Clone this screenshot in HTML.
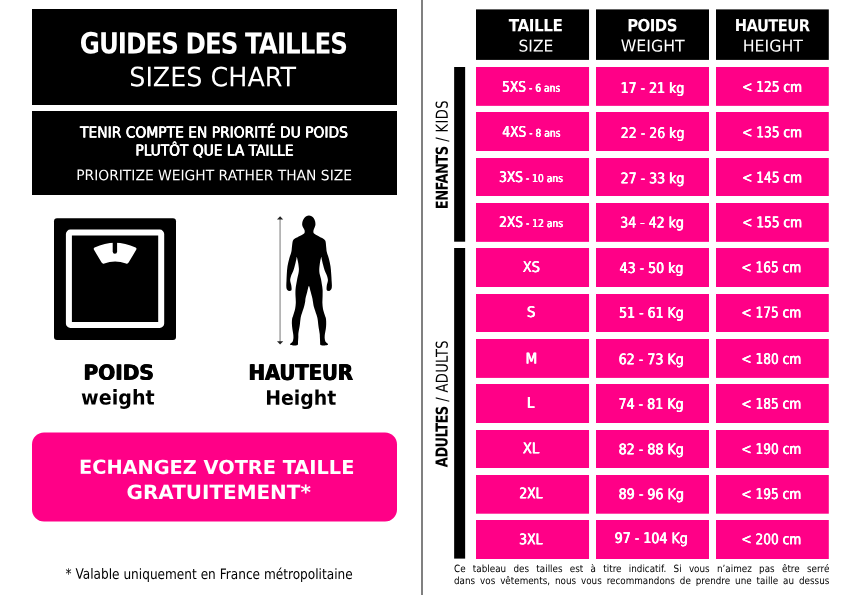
<!DOCTYPE html>
<html lang="fr">
<head>
<meta charset="utf-8">
<title>Guides des tailles - Sizes chart</title>
<style>
html,body{margin:0;padding:0;background:#fff}
body{width:842px;height:595px;position:relative;overflow:hidden;font-family:'DejaVu Sans','Liberation Sans',sans-serif;text-rendering:geometricPrecision}
.pk{fill:#ff0087}
.t{position:absolute;left:0;top:0;white-space:nowrap;line-height:1;transform-origin:0 0}
.t small{font-size:74%;letter-spacing:.1px}
svg{position:absolute;left:0;top:0}
.note{position:absolute;margin:0;color:#000;text-align:justify;text-align-last:justify;transform-origin:0 0;white-space:nowrap}
</style>
</head>
<body>
<svg width="842" height="595" viewBox="0 0 842 595">
<rect x="32" y="9" width="365" height="96"/>
<rect x="32" y="111" width="365" height="84"/>
<rect class="pk" x="32" y="432.5" width="365" height="88.9" rx="12"/>
<rect x="421" y="0" width="2" height="595" fill="#808080"/>
<rect x="476" y="9.4" width="113.05" height="50.5"/>
<rect x="596" y="9.4" width="113" height="50.5"/>
<rect x="716" y="9.4" width="112.8" height="50.5"/>
<rect x="454.15" y="67" width="11" height="174.7"/>
<rect x="454.15" y="248" width="11" height="310.6"/>
<rect class="pk" x="476" y="67" width="113.05" height="38.85"/>
<rect class="pk" x="596" y="67" width="113.00" height="38.85"/>
<rect class="pk" x="716" y="67" width="112.80" height="38.85"/>
<rect class="pk" x="476" y="112" width="113.05" height="39.00"/>
<rect class="pk" x="596" y="112" width="113.00" height="39.00"/>
<rect class="pk" x="716" y="112" width="112.80" height="39.00"/>
<rect class="pk" x="476" y="158" width="113.05" height="38.00"/>
<rect class="pk" x="596" y="158" width="113.00" height="38.00"/>
<rect class="pk" x="716" y="158" width="112.80" height="38.00"/>
<rect class="pk" x="476" y="203" width="113.05" height="38.85"/>
<rect class="pk" x="596" y="203" width="113.00" height="38.85"/>
<rect class="pk" x="716" y="203" width="112.80" height="38.85"/>
<rect class="pk" x="476" y="248" width="113.05" height="39.00"/>
<rect class="pk" x="596" y="248" width="113.00" height="39.00"/>
<rect class="pk" x="716" y="248" width="112.80" height="39.00"/>
<rect class="pk" x="476" y="294" width="113.05" height="38.00"/>
<rect class="pk" x="596" y="294" width="113.00" height="38.00"/>
<rect class="pk" x="716" y="294" width="112.80" height="38.00"/>
<rect class="pk" x="476" y="339" width="113.05" height="38.90"/>
<rect class="pk" x="596" y="339" width="113.00" height="38.90"/>
<rect class="pk" x="716" y="339" width="112.80" height="38.90"/>
<rect class="pk" x="476" y="384" width="113.05" height="39.00"/>
<rect class="pk" x="596" y="384" width="113.00" height="39.00"/>
<rect class="pk" x="716" y="384" width="112.80" height="39.00"/>
<rect class="pk" x="476" y="430" width="113.05" height="38.00"/>
<rect class="pk" x="596" y="430" width="113.00" height="38.00"/>
<rect class="pk" x="716" y="430" width="112.80" height="38.00"/>
<rect class="pk" x="476" y="475" width="113.05" height="38.70"/>
<rect class="pk" x="596" y="475" width="113.00" height="38.70"/>
<rect class="pk" x="716" y="475" width="112.80" height="38.70"/>
<rect class="pk" x="476" y="520" width="113.05" height="39.00"/>
<rect class="pk" x="596" y="520" width="113.00" height="39.00"/>
<rect class="pk" x="716" y="520" width="112.80" height="39.00"/>
<rect x="54" y="218.3" width="122" height="121.8" rx="3" fill="#000"/>
<rect x="68.9" y="232.6" width="92.3" height="92.3" rx="1.5" fill="none" stroke="#fff" stroke-width="6"/>
<path d="M94.6 247.6 Q93.2 248.3 94 249.8 L101.6 262.6 Q102.6 264.2 104.3 263.5 Q115 259.5 126 263.5 Q127.8 264.2 128.6 262.6 L136.2 249.8 Q137 248.3 135.6 247.6 Q115 237.8 94.6 247.6 Z" fill="#fff"/>
<path d="M112.7 242 L112.7 251.6 A2.2 2.2 0 0 0 117.1 251.6 L117.1 242 Z" fill="#000"/>
<rect x="279.2" y="218" width="1.8" height="125" fill="#b4b4b4"/>
<path d="M277 219.6 L280.1 216.3 L283.2 219.6 Z" fill="#222"/>
<path d="M277 341.3 L280.1 344.6 L283.2 341.3 Z" fill="#222"/>
<path d="M308.9 215.5C309.8 215.5 310.8 215.9 311.6 216.3C312.4 216.7 313.0 217.1 313.6 217.9C314.2 218.7 314.8 220.0 315.1 221.2C315.4 222.4 315.5 223.9 315.4 225.0C315.3 226.1 314.9 226.7 314.6 227.5C314.3 228.3 313.8 229.2 313.6 230.1C313.4 231.0 313.2 232.2 313.6 233.0C314.1 233.8 315.2 234.4 316.3 235.1C317.4 235.8 319.1 236.6 320.3 237.2C321.5 237.8 322.9 238.3 323.7 238.9C324.5 239.5 324.8 239.9 325.2 240.6C325.6 241.3 325.6 242.0 325.8 243.1C326.0 244.2 326.0 245.8 326.2 247.3C326.4 248.8 326.4 250.1 326.8 252.0C327.2 253.9 328.3 256.3 328.9 258.7C329.5 261.1 330.1 263.8 330.5 266.3C330.9 268.8 331.0 271.4 331.2 273.8C331.4 276.2 331.5 278.6 331.6 280.6C331.7 282.6 331.9 284.2 331.9 285.6C331.9 287.0 331.8 288.1 331.4 289.0C331.0 289.9 330.3 290.4 329.7 290.7C329.1 291.0 328.2 291.0 327.7 290.8C327.2 290.6 326.8 290.3 326.6 289.4C326.5 288.5 326.6 287.1 326.8 285.6C327.0 284.1 327.8 282.1 327.9 280.6C328.0 279.1 327.7 278.1 327.2 276.4C326.7 274.7 325.4 272.5 324.7 270.5C324.0 268.5 323.5 266.4 323.0 264.6C322.5 262.8 322.1 260.9 321.8 259.6C321.5 258.3 321.6 256.6 321.3 257.0C321.0 257.4 320.4 260.1 320.1 262.1C319.8 264.1 319.4 266.9 319.3 268.8C319.2 270.8 319.3 272.1 319.6 273.8C319.9 275.5 320.6 277.2 321.0 278.9C321.4 280.6 321.5 282.1 321.8 283.9C322.1 285.7 322.5 287.8 322.6 289.8C322.7 291.8 322.6 293.5 322.6 295.7C322.6 297.9 322.3 300.8 322.4 303.0C322.5 305.2 322.6 306.9 323.0 308.9C323.4 310.9 324.2 313.1 324.7 314.8C325.2 316.5 325.8 317.4 326.0 319.0C326.2 320.6 326.2 322.4 326.2 324.1C326.2 325.8 326.0 327.4 325.8 329.1C325.6 330.8 325.1 332.6 324.9 334.1C324.7 335.6 324.6 337.0 324.7 338.3C324.8 339.6 325.0 340.8 325.5 341.7C326.0 342.6 327.6 343.2 327.9 343.8C328.2 344.4 328.1 344.8 327.4 345.1C326.7 345.4 324.9 345.5 323.8 345.5C322.7 345.5 321.1 345.7 320.5 345.1C319.9 344.5 320.2 343.0 320.1 341.7C320.0 340.4 320.0 338.9 319.9 337.5C319.8 336.1 319.9 335.3 319.6 333.3C319.4 331.3 318.7 328.1 318.4 325.7C318.1 323.3 317.9 320.8 317.6 319.0C317.3 317.2 317.1 316.8 316.5 314.8C315.9 312.8 314.6 309.4 314.0 307.2C313.4 305.0 313.2 302.9 312.9 301.4C312.6 299.9 312.7 299.6 312.3 298.0C311.9 296.4 311.2 293.5 310.6 291.5C310.0 289.5 309.5 286.0 308.9 286.0C308.4 286.0 307.9 289.5 307.3 291.5C306.7 293.5 306.0 296.4 305.6 298.0C305.2 299.6 305.5 299.9 305.2 301.4C304.9 302.9 304.5 305.0 303.9 307.2C303.3 309.4 302.0 312.8 301.4 314.8C300.8 316.8 300.8 317.2 300.5 319.0C300.2 320.8 300.1 323.3 299.7 325.7C299.3 328.1 298.6 331.3 298.4 333.3C298.2 335.3 298.4 336.1 298.3 337.5C298.2 338.9 298.1 340.4 298.0 341.7C297.9 343.0 298.2 344.5 297.6 345.1C297.0 345.7 295.4 345.5 294.2 345.5C293.0 345.5 291.4 345.4 290.7 345.1C290.0 344.8 289.9 344.4 290.2 343.8C290.5 343.2 292.1 342.6 292.6 341.7C293.1 340.8 293.3 339.6 293.4 338.3C293.5 337.0 293.4 335.6 293.2 334.1C293.0 332.6 292.6 330.8 292.4 329.1C292.2 327.4 291.9 325.8 291.9 324.1C291.8 322.4 291.9 320.6 292.1 319.0C292.4 317.4 292.9 316.5 293.4 314.8C293.9 313.1 294.7 310.9 295.1 308.9C295.5 306.9 295.7 305.2 295.8 303.0C295.9 300.8 295.6 297.9 295.5 295.7C295.4 293.5 295.4 291.8 295.5 289.8C295.6 287.8 296.0 285.7 296.3 283.9C296.6 282.1 296.9 280.6 297.2 278.9C297.5 277.2 298.1 275.5 298.4 273.8C298.7 272.1 299.0 270.8 298.9 268.8C298.8 266.9 298.4 264.1 298.0 262.1C297.6 260.1 297.1 257.4 296.8 257.0C296.5 256.6 296.6 258.3 296.3 259.6C296.0 260.9 295.6 262.8 295.1 264.6C294.6 266.4 294.1 268.5 293.4 270.5C292.7 272.5 291.4 274.7 290.9 276.4C290.4 278.1 290.1 279.1 290.2 280.6C290.3 282.1 291.1 284.1 291.3 285.6C291.5 287.1 291.7 288.5 291.6 289.4C291.5 290.3 291.0 290.6 290.5 290.8C290.0 291.0 289.0 291.0 288.4 290.7C287.8 290.4 287.0 289.9 286.7 289.0C286.4 288.1 286.3 287.0 286.3 285.6C286.3 284.2 286.4 282.6 286.5 280.6C286.6 278.6 286.6 276.2 286.8 273.8C287.0 271.4 287.1 268.8 287.5 266.3C287.9 263.8 288.6 261.1 289.2 258.7C289.8 256.3 290.9 253.9 291.3 252.0C291.8 250.1 291.7 248.8 291.9 247.3C292.1 245.8 292.2 244.2 292.4 243.1C292.6 242.0 292.7 241.3 293.0 240.6C293.3 239.9 293.4 239.5 294.2 238.9C295.0 238.3 296.3 237.8 297.6 237.2C298.9 236.6 300.7 235.8 301.8 235.1C302.9 234.4 304.1 233.8 304.5 233.0C304.9 232.2 304.7 231.0 304.5 230.1C304.3 229.2 303.5 228.3 303.1 227.5C302.7 226.7 302.3 226.1 302.2 225.0C302.1 223.9 302.2 222.4 302.6 221.2C303.0 220.0 303.7 218.7 304.3 217.9C304.9 217.1 305.5 216.7 306.3 216.3C307.1 215.9 308.1 215.5 308.9 215.5Z" fill="#000"/>
</svg>

<div class="t" style="transform:translate(79.74px,30.03px) rotate(0.04deg) scale(0.7907,0.9326);font-weight:700;font-size:31px;color:#fff;letter-spacing:-1.2px;">GUIDES DES TAILLES</div>
<div class="t" style="transform:translate(129.26px,64.25px) rotate(0.04deg) scale(0.9076,0.9526);font-weight:400;font-size:28px;color:#fff;">SIZES CHART</div>
<div class="t" style="transform:translate(80.09px,125.39px) rotate(0.04deg) scale(0.9116,1.0000);font-weight:400;font-size:15.2px;color:#fff;text-shadow:0.35px 0 0 #fff,-0.35px 0 0 #fff;">TENIR COMPTE EN PRIORITÉ DU POIDS</div>
<div class="t" style="transform:translate(135.40px,143.55px) rotate(0.04deg) scale(0.9071,1.0000);font-weight:400;font-size:15.2px;color:#fff;text-shadow:0.35px 0 0 #fff,-0.35px 0 0 #fff;">PLUTÔT QUE LA TAILLE</div>
<div class="t" style="transform:translate(76.17px,169.30px) rotate(0.04deg) scale(0.9555,0.9833);font-weight:400;font-size:14.5px;color:#fff;">PRIORITIZE WEIGHT RATHER THAN SIZE</div>
<div class="t" style="transform:translate(83.58px,363.66px) rotate(0.04deg) scale(0.9110,0.9468);font-weight:700;font-size:22px;color:#000;text-shadow:0.6px 0 0 #000,-0.6px 0 0 #000;">POIDS</div>
<div class="t" style="transform:translate(81.12px,388.01px) rotate(0.04deg) scale(0.9101,0.9684);font-weight:700;font-size:21px;color:#000;">weight</div>
<div class="t" style="transform:translate(248.66px,363.11px) rotate(0.04deg) scale(0.8876,0.9864);font-weight:700;font-size:22px;color:#000;text-shadow:0.6px 0 0 #000,-0.6px 0 0 #000;">HAUTEUR</div>
<div class="t" style="transform:translate(265.17px,388.45px) rotate(0.04deg) scale(0.9004,0.9522);font-weight:700;font-size:21px;color:#000;">Height</div>
<div class="t" style="transform:translate(79.00px,457.97px) rotate(0.04deg) scale(0.9918,0.9926);font-weight:700;font-size:19.5px;color:#fff;">ECHANGEZ VOTRE TAILLE</div>
<div class="t" style="transform:translate(126.60px,482.90px) rotate(0.04deg) scale(1.0226,0.9998);font-weight:700;font-size:19.5px;color:#fff;">GRATUITEMENT*</div>
<div class="t" style="transform:translate(65.49px,567.85px) rotate(0.04deg) scale(0.8490,1.0000);font-weight:400;font-size:14.3px;color:#000;">* Valable uniquement en France métropolitaine</div>
<div class="t" style="transform:translate(508.85px,18.46px) rotate(0.04deg) scale(0.8992,0.9862);font-weight:700;font-size:17px;color:#fff;letter-spacing:-0.6px;">TAILLE</div>
<div class="t" style="transform:translate(518.48px,38.75px) rotate(0.04deg) scale(0.9408,0.9732);font-weight:400;font-size:16.5px;color:#fff;">SIZE</div>
<div class="t" style="transform:translate(627.17px,18.40px) rotate(0.04deg) scale(0.8812,0.9902);font-weight:700;font-size:17px;color:#fff;letter-spacing:-0.6px;">POIDS</div>
<div class="t" style="transform:translate(620.73px,38.72px) rotate(0.04deg) scale(0.9570,0.9724);font-weight:400;font-size:16.5px;color:#fff;">WEIGHT</div>
<div class="t" style="transform:translate(734.68px,18.48px) rotate(0.04deg) scale(0.8654,0.9721);font-weight:700;font-size:17px;color:#fff;letter-spacing:-0.6px;">HAUTEUR</div>
<div class="t" style="transform:translate(742.73px,38.75px) rotate(0.04deg) scale(0.9571,0.9849);font-weight:400;font-size:16.5px;color:#fff;">HEIGHT</div>
<div class="t" style="transform:translate(434.71px,209.21px) rotate(-89.96deg) scale(0.7924,1.0023);font-weight:400;font-size:16.5px;color:#000;"><b style="letter-spacing:-.7px">ENFANTS</b><span style="letter-spacing:.5px"> / KIDS</span></div>
<div class="t" style="transform:translate(434.62px,467.12px) rotate(-89.96deg) scale(0.7877,0.9983);font-weight:400;font-size:16.5px;color:#000;"><b style="letter-spacing:-.7px">ADULTES</b><span style="letter-spacing:.5px"> / ADULTS</span></div>
<div class="t" style="transform:translate(502.15px,80.70px) rotate(0.04deg) scale(0.8370,1.0000);font-weight:400;font-size:14.6px;color:#fff;text-shadow:0.4px 0 0 #fff,-0.4px 0 0 #fff;">5XS<small> - 6 ans</small></div>
<div class="t" style="transform:translate(620.61px,82.01px) rotate(0.04deg) scale(0.8600,1.0000);font-weight:400;font-size:14.6px;color:#fff;text-shadow:0.4px 0 0 #fff,-0.4px 0 0 #fff;">17 - 21 kg</div>
<div class="t" style="transform:translate(742.21px,80.85px) rotate(0.04deg) scale(0.8350,1.0000);font-weight:400;font-size:14.6px;color:#fff;text-shadow:0.4px 0 0 #fff,-0.4px 0 0 #fff;">&lt; 125 cm</div>
<div class="t" style="transform:translate(502.37px,125.83px) rotate(0.04deg) scale(0.8370,1.0000);font-weight:400;font-size:14.6px;color:#fff;text-shadow:0.4px 0 0 #fff,-0.4px 0 0 #fff;">4XS<small> - 8 ans</small></div>
<div class="t" style="transform:translate(620.78px,126.89px) rotate(0.04deg) scale(0.8600,1.0000);font-weight:400;font-size:14.6px;color:#fff;text-shadow:0.4px 0 0 #fff,-0.4px 0 0 #fff;">22 - 26 kg</div>
<div class="t" style="transform:translate(742.21px,126.28px) rotate(0.04deg) scale(0.8350,1.0000);font-weight:400;font-size:14.6px;color:#fff;text-shadow:0.4px 0 0 #fff,-0.4px 0 0 #fff;">&lt; 135 cm</div>
<div class="t" style="transform:translate(499.06px,170.96px) rotate(0.04deg) scale(0.8370,1.0000);font-weight:400;font-size:14.6px;color:#fff;text-shadow:0.4px 0 0 #fff,-0.4px 0 0 #fff;">3XS<small> - 10 ans</small></div>
<div class="t" style="transform:translate(620.72px,172.23px) rotate(0.04deg) scale(0.8600,1.0000);font-weight:400;font-size:14.6px;color:#fff;text-shadow:0.4px 0 0 #fff,-0.4px 0 0 #fff;">27 - 33 kg</div>
<div class="t" style="transform:translate(742.21px,171.42px) rotate(0.04deg) scale(0.8350,1.0000);font-weight:400;font-size:14.6px;color:#fff;text-shadow:0.4px 0 0 #fff,-0.4px 0 0 #fff;">&lt; 145 cm</div>
<div class="t" style="transform:translate(499.14px,216.02px) rotate(0.04deg) scale(0.8370,1.0000);font-weight:400;font-size:14.6px;color:#fff;text-shadow:0.4px 0 0 #fff,-0.4px 0 0 #fff;">2XS<small> - 12 ans</small></div>
<div class="t" style="transform:translate(620.25px,216.49px) rotate(0.04deg) scale(0.8600,1.0000);font-weight:400;font-size:14.6px;color:#fff;text-shadow:0.4px 0 0 #fff,-0.4px 0 0 #fff;">34 - 42 kg</div>
<div class="t" style="transform:translate(742.24px,216.16px) rotate(0.04deg) scale(0.8350,1.0000);font-weight:400;font-size:14.6px;color:#fff;text-shadow:0.4px 0 0 #fff,-0.4px 0 0 #fff;">&lt; 155 cm</div>
<div class="t" style="transform:translate(522.76px,260.94px) rotate(0.04deg) scale(0.8950,1.0000);font-weight:400;font-size:14.6px;color:#fff;text-shadow:0.4px 0 0 #fff,-0.4px 0 0 #fff;">XS</div>
<div class="t" style="transform:translate(619.70px,262.06px) rotate(0.04deg) scale(0.8600,1.0000);font-weight:400;font-size:14.6px;color:#fff;text-shadow:0.4px 0 0 #fff,-0.4px 0 0 #fff;">43 - 50 kg</div>
<div class="t" style="transform:translate(741.39px,261.25px) rotate(0.04deg) scale(0.8350,1.0000);font-weight:400;font-size:14.6px;color:#fff;text-shadow:0.4px 0 0 #fff,-0.4px 0 0 #fff;">&lt; 165 cm</div>
<div class="t" style="transform:translate(526.97px,306.01px) rotate(0.04deg) scale(0.9200,1.0000);font-weight:400;font-size:14.6px;color:#fff;text-shadow:0.4px 0 0 #fff,-0.4px 0 0 #fff;">S</div>
<div class="t" style="transform:translate(619.08px,306.79px) rotate(0.04deg) scale(0.8600,1.0000);font-weight:400;font-size:14.6px;color:#fff;text-shadow:0.4px 0 0 #fff,-0.4px 0 0 #fff;">51 - 61 Kg</div>
<div class="t" style="transform:translate(741.39px,306.52px) rotate(0.04deg) scale(0.8350,1.0000);font-weight:400;font-size:14.6px;color:#fff;text-shadow:0.4px 0 0 #fff,-0.4px 0 0 #fff;">&lt; 175 cm</div>
<div class="t" style="transform:translate(525.63px,352.58px) rotate(0.04deg) scale(0.9200,1.0000);font-weight:400;font-size:14.6px;color:#fff;text-shadow:0.4px 0 0 #fff,-0.4px 0 0 #fff;">M</div>
<div class="t" style="transform:translate(618.65px,353.24px) rotate(0.04deg) scale(0.8669,1.0000);font-weight:400;font-size:14.6px;color:#fff;text-shadow:0.4px 0 0 #fff,-0.4px 0 0 #fff;">62 - 73 Kg</div>
<div class="t" style="transform:translate(741.44px,352.86px) rotate(0.04deg) scale(0.8350,1.0000);font-weight:400;font-size:14.6px;color:#fff;text-shadow:0.4px 0 0 #fff,-0.4px 0 0 #fff;">&lt; 180 cm</div>
<div class="t" style="transform:translate(526.94px,396.77px) rotate(0.04deg) scale(0.9200,1.0000);font-weight:400;font-size:14.6px;color:#fff;text-shadow:0.4px 0 0 #fff,-0.4px 0 0 #fff;">L</div>
<div class="t" style="transform:translate(618.51px,397.99px) rotate(0.04deg) scale(0.8669,1.0000);font-weight:400;font-size:14.6px;color:#fff;text-shadow:0.4px 0 0 #fff,-0.4px 0 0 #fff;">74 - 81 Kg</div>
<div class="t" style="transform:translate(741.39px,397.65px) rotate(0.04deg) scale(0.8350,1.0000);font-weight:400;font-size:14.6px;color:#fff;text-shadow:0.4px 0 0 #fff,-0.4px 0 0 #fff;">&lt; 185 cm</div>
<div class="t" style="transform:translate(522.82px,442.30px) rotate(0.04deg) scale(0.9050,1.0000);font-weight:400;font-size:14.6px;color:#fff;text-shadow:0.4px 0 0 #fff,-0.4px 0 0 #fff;">XL</div>
<div class="t" style="transform:translate(618.65px,443.31px) rotate(0.04deg) scale(0.8669,1.0000);font-weight:400;font-size:14.6px;color:#fff;text-shadow:0.4px 0 0 #fff,-0.4px 0 0 #fff;">82 - 88 Kg</div>
<div class="t" style="transform:translate(741.43px,443.02px) rotate(0.04deg) scale(0.8350,1.0000);font-weight:400;font-size:14.6px;color:#fff;text-shadow:0.4px 0 0 #fff,-0.4px 0 0 #fff;">&lt; 190 cm</div>
<div class="t" style="transform:translate(519.30px,487.36px) rotate(0.04deg) scale(0.8450,1.0000);font-weight:400;font-size:14.6px;color:#fff;text-shadow:0.4px 0 0 #fff,-0.4px 0 0 #fff;">2XL</div>
<div class="t" style="transform:translate(618.67px,488.11px) rotate(0.04deg) scale(0.8669,1.0000);font-weight:400;font-size:14.6px;color:#fff;text-shadow:0.4px 0 0 #fff,-0.4px 0 0 #fff;">89 - 96 Kg</div>
<div class="t" style="transform:translate(741.39px,487.96px) rotate(0.04deg) scale(0.8350,1.0000);font-weight:400;font-size:14.6px;color:#fff;text-shadow:0.4px 0 0 #fff,-0.4px 0 0 #fff;">&lt; 195 cm</div>
<div class="t" style="transform:translate(519.18px,533.31px) rotate(0.04deg) scale(0.8500,1.0000);font-weight:400;font-size:14.6px;color:#fff;text-shadow:0.4px 0 0 #fff,-0.4px 0 0 #fff;">3XL</div>
<div class="t" style="transform:translate(614.61px,532.10px) rotate(0.04deg) scale(0.8669,1.0000);font-weight:400;font-size:14.6px;color:#fff;text-shadow:0.4px 0 0 #fff,-0.4px 0 0 #fff;">97 - 104 Kg</div>
<div class="t" style="transform:translate(741.44px,533.12px) rotate(0.04deg) scale(0.8350,1.0000);font-weight:400;font-size:14.6px;color:#fff;text-shadow:0.4px 0 0 #fff,-0.4px 0 0 #fff;">&lt; 200 cm</div>
<p class="note" style="left:453.7px;top:563.7px;width:426.5px;transform:scaleX(0.88);font-size:10px;line-height:12.5px">Ce tableau des tailles est à titre indicatif. Si vous n’aimez pas être serré<br>dans vos vêtements, nous vous recommandons de prendre une taille au dessus</p>

</body>
</html>
